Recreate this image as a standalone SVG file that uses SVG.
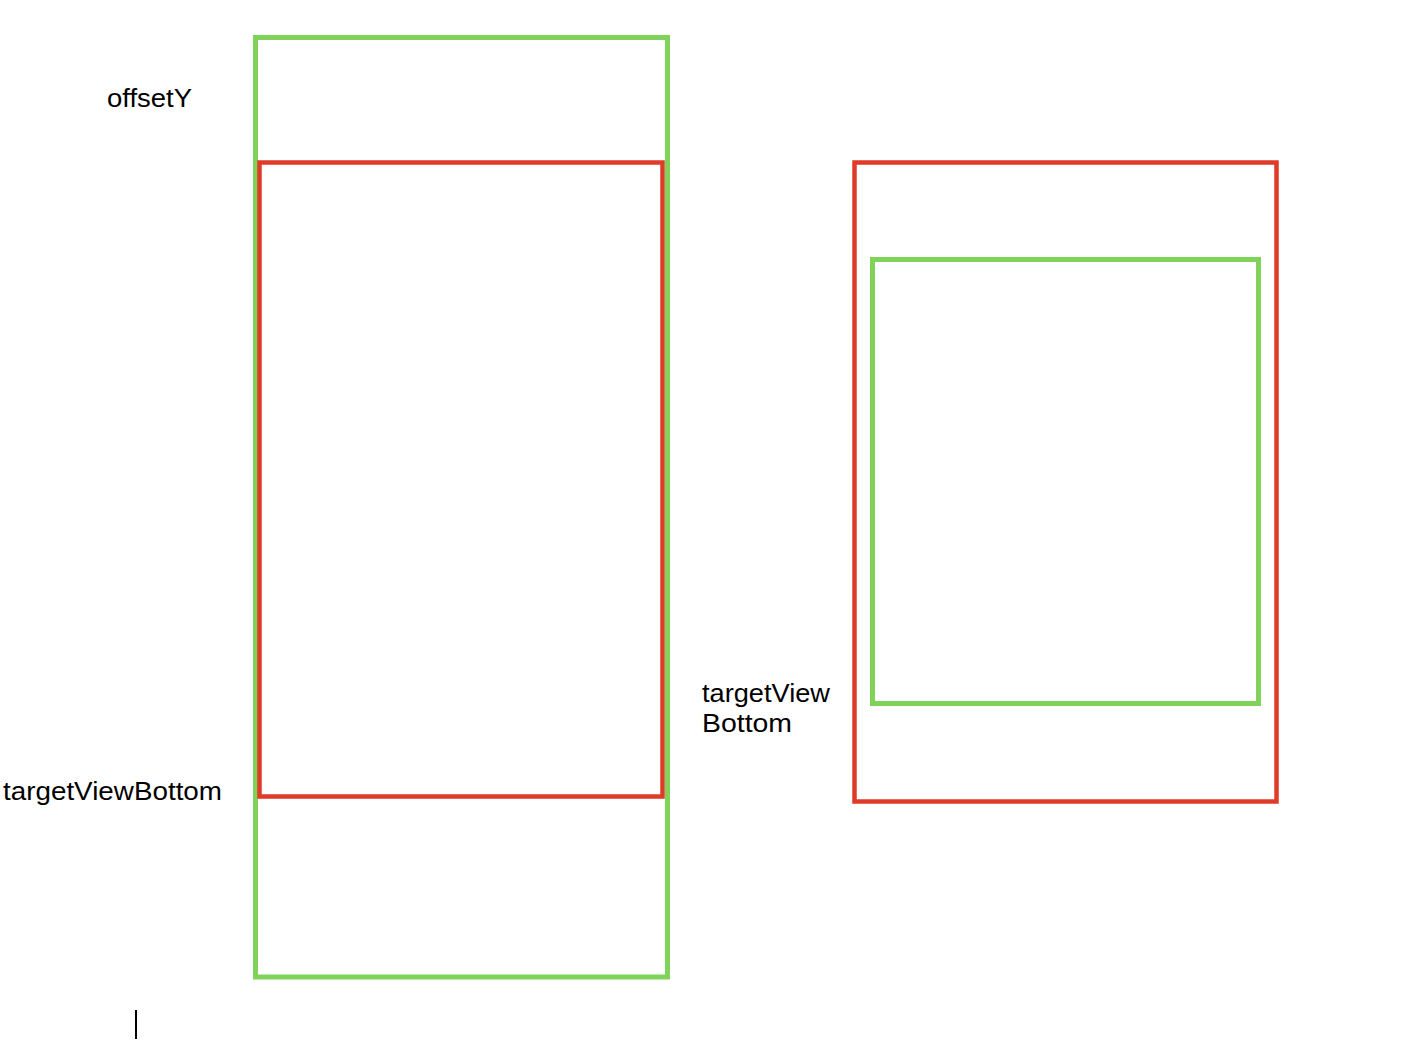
<svg xmlns="http://www.w3.org/2000/svg" width="1428" height="1056" viewBox="0 0 1428 1056">
<style>
.g{fill:none;stroke:#80d35a;stroke-width:5}
.r{fill:none;stroke:#df3b28;stroke-width:4.5}
text{font-family:"Liberation Sans",Arial,sans-serif;font-size:25px;fill:#000}
</style>
<rect width="1428" height="1056" fill="#fff"/>
<g id="left-outer"><rect class="g" x="255.5" y="37.5" width="412" height="939.5"/></g>
<g id="left-inner"><rect class="r" x="259.5" y="162.5" width="403" height="634"/></g>
<g id="right-outer"><rect class="r" x="854.5" y="162.5" width="422" height="639"/></g>
<g id="right-inner"><rect class="g" x="872.5" y="259.5" width="386" height="444"/></g>
<g id="labels">
<text x="107" y="107" textLength="85" lengthAdjust="spacingAndGlyphs">offsetY</text>
<text x="3" y="800" textLength="219" lengthAdjust="spacingAndGlyphs">targetViewBottom</text>
<text x="702" y="702" textLength="128" lengthAdjust="spacingAndGlyphs">targetView</text>
<text x="702" y="732" textLength="90" lengthAdjust="spacingAndGlyphs">Bottom</text>
</g>
<g id="connectors"><line x1="136" y1="1010" x2="136" y2="1039" stroke="#000" stroke-width="2"/></g>
</svg>
